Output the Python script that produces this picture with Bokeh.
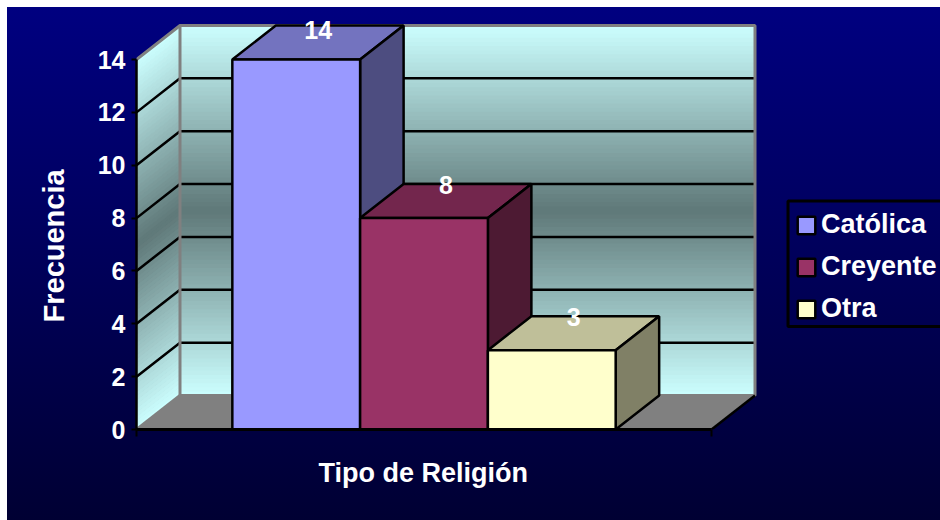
from bokeh.plotting import figure
from bokeh.embed import file_html
from bokeh.resources import INLINE
from bokeh.models import Range1d, FixedTicker, Legend, LegendItem, ColumnDataSource, Title
from bokeh.core.properties import value

# ---- data
categories = ["Católica", "Creyente", "Otra"]
frequencies = [14, 8, 3]
y_ticks = [0, 2, 4, 6, 8, 10, 12, 14]
y_title = "Frecuencia"
x_title = "Tipo de Religión"

front_colors = ["#9999ff", "#993366", "#ffffcc"]
top_colors = ["#7373bf", "#73264d", "#bfbf99"]
side_colors = ["#4d4d80", "#4d1a33", "#808066"]

# ---- layout (pixels on the picture)
FONT = "Liberation Sans"
W, H = 940, 520
floor_x0, floor_x1, floor_y = 136, 711, 429
top_y = 59
gap = 0.75
n_units = len(categories) + 2 * gap
ux = (floor_x1 - floor_x0) / n_units
uy = (floor_y - top_y) / max(y_ticks)
dx = 43.5 / ux
dy = 34 / uy
ymax = max(y_ticks)

p = figure(width=W, height=H,
           output_backend="svg", toolbar_location=None,
           x_range=Range1d(0, (W - floor_x0) / ux),
           y_range=Range1d(0, (floor_y - 7) / uy),
           min_border_left=floor_x0, min_border_right=0,
           min_border_top=7, min_border_bottom=H - floor_y,
           border_fill_color=None, background_fill_color=None,
           outline_line_color=None,
           styles={"background": "linear-gradient(#000080, #000033) 7px 7px / 933px 513px no-repeat, white"})
p.grid.visible = False


def wall_color(t):
    a, b = (204, 255, 255), (95, 120, 120)
    k = abs(t - 0.5) * 2
    return "#%02x%02x%02x" % tuple(round(b[i] + (a[i] - b[i]) * k) for i in range(3))


# ---- gradient walls
N = 90
step = ymax / N
levels = [i * step for i in range(N)]
colors = [wall_color((i + 0.5) / N) for i in range(N)]
p.quad(left=dx, right=dx + n_units,
       bottom=[dy + v for v in levels],
       top=[dy + v + step * 1.25 for v in levels],
       fill_color=colors, line_color=None)
p.patches(xs=[[0, dx, dx, 0] for _ in levels],
          ys=[[v, v + dy, v + dy + step * 1.25, v + step * 1.25] for v in levels],
          fill_color=colors, line_color=None)

# ---- floor
p.patch([0, dx, dx + n_units, n_units], [0, dy, dy, 0],
        fill_color="#808080", line_color=None)

# ---- grid lines
inner = [t for t in y_ticks if 0 < t < ymax]
p.multi_line(xs=[[0, dx, dx + n_units] for _ in inner],
             ys=[[t, t + dy, t + dy] for t in inner],
             line_color="black", line_width=2.5)

# ---- wall frame
p.multi_line(xs=[[0, dx, dx + n_units, dx + n_units, dx], [dx, dx], [0, dx]],
             ys=[[ymax, ymax + dy, ymax + dy, dy, dy], [dy, ymax + dy], [0, dy]],
             line_color="#808080", line_width=3)
p.line([n_units, n_units + dx], [0, dy], line_color="black", line_width=2.5)

# ---- bars
items = []
for i, (name, v) in enumerate(zip(categories, frequencies)):
    x0 = gap + i
    x1 = x0 + 1
    p.patch([x0, x0 + dx, x1 + dx, x1], [v, v + dy, v + dy, v],
            fill_color=top_colors[i], line_color="black", line_width=2.5)
    p.patch([x1, x1 + dx, x1 + dx, x1], [0, dy, v + dy, v],
            fill_color=side_colors[i], line_color="black", line_width=2.5)
    r = p.quad(left=x0, right=x1, bottom=0, top=v,
               fill_color=front_colors[i], line_color="black", line_width=2.5)
    items.append(LegendItem(label=name, renderers=[r]))

# ---- value labels
src = ColumnDataSource(dict(
    x=[gap + i + 0.5 + 22 / ux for i in range(len(frequencies))],
    y=[min(v + 33 / uy, ymax + 29.5 / uy) for v in frequencies],
    t=[str(v) for v in frequencies]))
p.text(x="x", y="y", text="t", source=src, text_color="white",
       text_font=value(FONT), text_font_style="bold", text_font_size="25px",
       text_align="center", text_baseline="middle")

# ---- axes
ya = p.yaxis[0]
ya.ticker = FixedTicker(ticks=y_ticks)
ya.bounds = (0, ymax)
ya.axis_line_color = "black"
ya.axis_line_width = 2.5
ya.major_tick_line_color = "black"
ya.major_tick_line_width = 2
ya.major_tick_out = 5
ya.major_tick_in = 0
ya.minor_tick_line_color = None
ya.major_label_standoff = 6
ya.major_label_text_color = "white"
ya.major_label_text_font = FONT
ya.major_label_text_font_style = "bold"
ya.major_label_text_font_size = "25px"

xa = p.xaxis[0]
xa.ticker = FixedTicker(ticks=[0, n_units])
xa.bounds = (0, n_units)
xa.axis_line_color = "black"
xa.axis_line_width = 3
xa.major_tick_line_color = "black"
xa.major_tick_line_width = 2
xa.major_tick_out = 7
xa.major_tick_in = 0
xa.minor_tick_line_color = None
xa.major_label_text_color = None

# ---- axis titles
p.add_layout(Title(text=y_title, align="left", offset=107, standoff=50,
                   text_color="white", text_font=FONT, text_font_style="bold",
                   text_font_size="29px"), "left")
p.add_layout(Title(text=x_title, align="left", offset=182, standoff=39,
                   text_color="white", text_font=FONT, text_font_style="bold",
                   text_font_size="27px"), "below")

# ---- legend frame, drawn in data space so its box can keep the tight rows
p.quad(left=(787.5 - floor_x0) / ux, right=(950 - floor_x0) / ux,
       bottom=(floor_y - 326) / uy, top=(floor_y - 200.5) / uy,
       fill_color=None, line_color="black", line_width=3)

legend = Legend(items=items, location=(795 - floor_x0, floor_y - 324), orientation="vertical",
                border_line_color=None,
                background_fill_alpha=0, padding=8, margin=0, spacing=11,
                glyph_width=22, glyph_height=22, label_standoff=4,
                label_text_color="white", label_text_font=FONT,
                label_text_font_style="bold", label_text_font_size="27px")
p.add_layout(legend)

open("out.html", "w").write(file_html(p, INLINE))
